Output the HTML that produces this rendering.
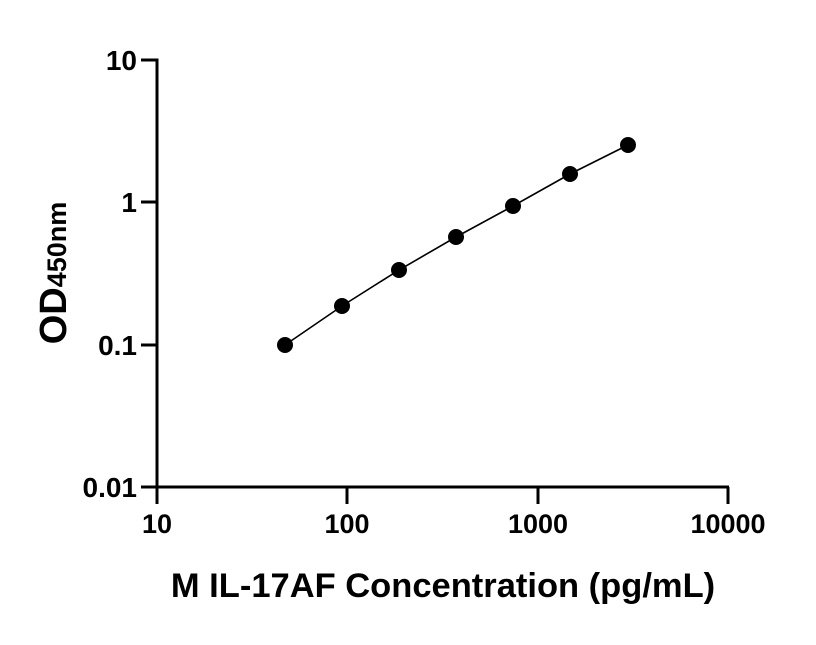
<!DOCTYPE html>
<html><head><style>body{margin:0;background:#fff}</style></head><body>
<svg width="816" height="640" xmlns="http://www.w3.org/2000/svg" font-family="Liberation Sans, Arial, sans-serif" font-weight="bold">
<g stroke="#000" stroke-width="3" fill="none">
<line x1="157" y1="58.5" x2="157" y2="504"/>
<line x1="141" y1="487" x2="729" y2="487"/>
<line x1="141" y1="60" x2="157" y2="60"/>
<line x1="141" y1="202" x2="157" y2="202"/>
<line x1="141" y1="345" x2="157" y2="345"/>
<line x1="347" y1="487" x2="347" y2="504"/>
<line x1="538" y1="487" x2="538" y2="504"/>
<line x1="728" y1="487" x2="728" y2="504"/>
</g>
<g font-size="28" text-anchor="end">
<text x="137" y="70">10</text>
<text x="137" y="212">1</text>
<text x="137" y="355">0.1</text>
<text x="137" y="497">0.01</text>
</g>
<g font-size="27" text-anchor="middle">
<text x="157" y="533">10</text>
<text x="347" y="533">100</text>
<text x="538" y="533">1000</text>
<text x="728" y="533">10000</text>
</g>
<text x="443" y="597" font-size="34.5" text-anchor="middle">M IL-17AF Concentration (pg/mL)</text>
<text transform="translate(66,273) rotate(-90)" text-anchor="middle" font-size="38">OD<tspan font-size="27">450nm</tspan></text>
<polyline fill="none" stroke="#000" stroke-width="1.6" points="285,345 342,306 399,270 456,237 513,206 570,174 628,145"/>
<g fill="#000">
<circle cx="285" cy="345" r="8"/><circle cx="342" cy="306" r="8"/><circle cx="399" cy="270" r="8"/>
<circle cx="456" cy="237" r="8"/><circle cx="513" cy="206" r="8"/><circle cx="570" cy="174" r="8"/>
<circle cx="628" cy="145" r="8"/>
</g>
</svg>
</body></html>
